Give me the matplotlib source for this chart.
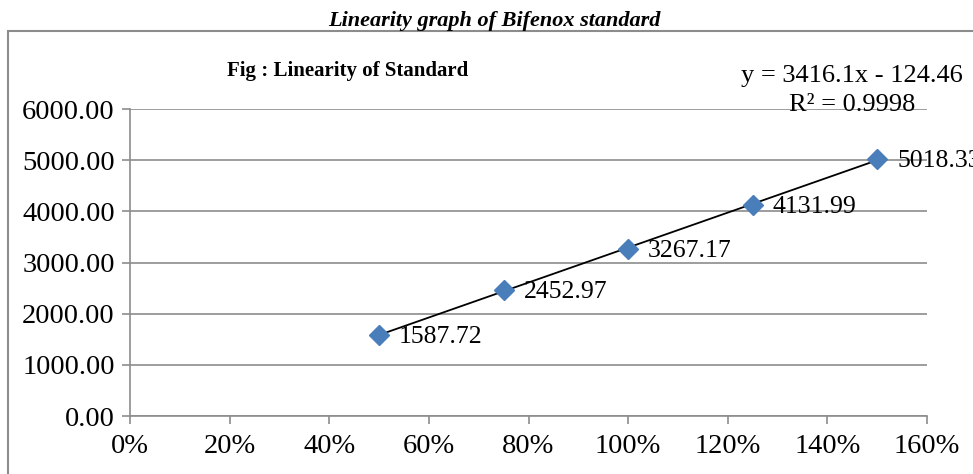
import numpy as np
import matplotlib.pyplot as plt
from matplotlib.patches import Rectangle
from matplotlib.ticker import FuncFormatter

plt.rcParams['font.family'] = ['Liberation Serif', 'DejaVu Serif']

# data
levels = [0.50, 0.75, 1.00, 1.25, 1.50]
areas = [1587.72, 2452.97, 3267.17, 4131.99, 5018.33]
slope = 3416.1
intercept = -124.46
r2 = 0.9998

fig = plt.figure(figsize=(9.73, 4.74), dpi=100)

# outer chart border
fig.patches.append(Rectangle((8 / 973, -0.05), 1.1, 1 - 31 / 474 + 0.05, transform=fig.transFigure,
                             fill=False, edgecolor='#8c8c8c', linewidth=1.5, clip_on=False))

ax = fig.add_axes([130 / 973, 1 - 416 / 474, 797 / 973, 307 / 474])

# trendline
xs = np.array([levels[0], levels[-1]])
ax.plot(xs, slope * xs + intercept, color='black', linewidth=1.3, zorder=3)
ax.plot(levels, areas, linestyle='none', marker='D', markersize=10, color='#4a7ebb', zorder=4)

for x, y in zip(levels, areas):
    ax.annotate('%.2f' % y, (x, y), xytext=(20, -2), textcoords='offset pixels',
                va='center', ha='left', fontsize=18.5, clip_on=False)

ax.set_xlim(0, 1.6)
ax.set_ylim(0, 6000)
ax.set_xticks(np.arange(0, 1.61, 0.2))
ax.set_yticks(np.arange(0, 6001, 1000))
ax.xaxis.set_major_formatter(FuncFormatter(lambda v, p: '%d%%' % round(v * 100)))
ax.yaxis.set_major_formatter(FuncFormatter(lambda v, p: '%.2f' % v))
ax.tick_params(axis='both', colors='#8c8c8c', labelcolor='black', labelsize=20.5, length=6, width=1.2)
ax.tick_params(axis='x', pad=7)
ax.tick_params(axis='y', pad=5)
ax.grid(axis='y', color='#8c8c8c', linewidth=1.2)
ax.set_axisbelow(True)
for s in ['top', 'right']:
    ax.spines[s].set_visible(False)
for s in ['left', 'bottom']:
    ax.spines[s].set_color('#8c8c8c')
    ax.spines[s].set_linewidth(1.2)

fig.text(494 / 973, 1 - 21 / 474, 'Linearity graph of Bifenox standard', ha='center', va='center',
         fontsize=16, fontweight='bold', fontstyle='italic')
fig.text(348 / 973, 1 - 71 / 474, 'Fig : Linearity of Standard', ha='center', va='center',
         fontsize=15, fontweight='bold')
fig.text(852 / 973, 1 - 76 / 474, 'y = %.1fx - %.2f' % (slope, -intercept), ha='center', va='center',
         fontsize=19)
fig.text(852 / 973, 1 - 105 / 474, 'R² = %.4f' % r2, ha='center', va='center', fontsize=19)

fig.savefig('out.png', dpi=100)
